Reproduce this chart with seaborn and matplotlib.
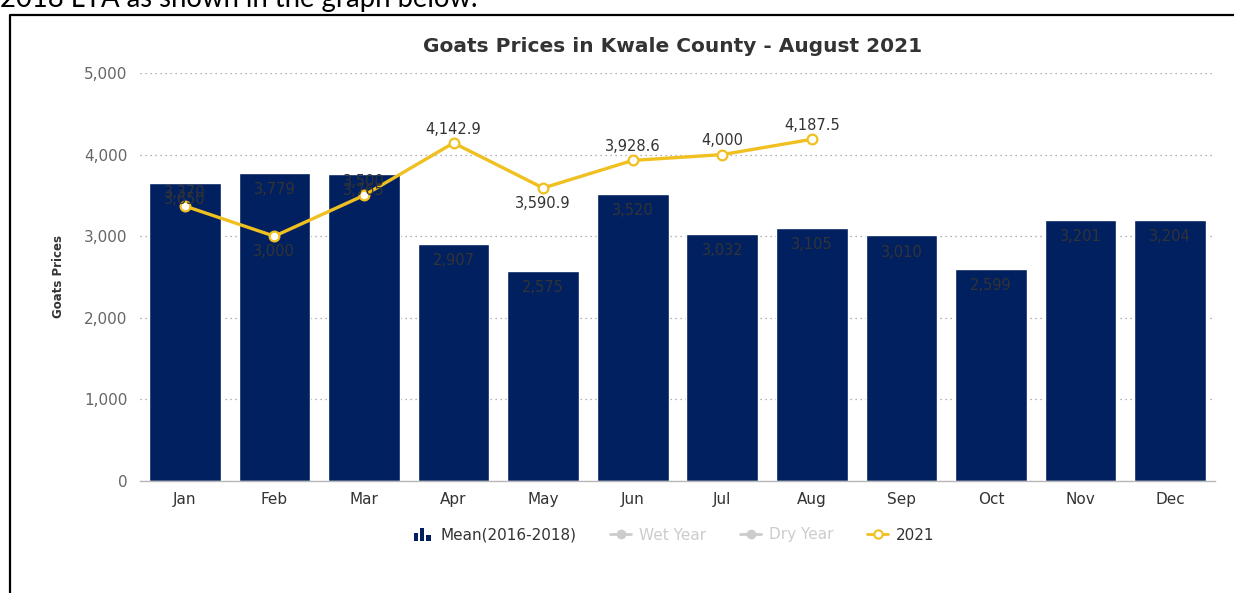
import matplotlib
matplotlib.use("Agg")
import matplotlib.pyplot as plt
import seaborn as sns
from matplotlib.lines import Line2D
from matplotlib.patches import Rectangle
from matplotlib.legend_handler import HandlerBase

# ---- data ----
months = ["Jan", "Feb", "Mar", "Apr", "May", "Jun", "Jul", "Aug", "Sep", "Oct", "Nov", "Dec"]
mean_2016_2018 = [3650, 3779, 3765, 2907, 2575, 3520, 3032, 3105, 3010, 2599, 3201, 3204]
months_2021 = ["Jan", "Feb", "Mar", "Apr", "May", "Jun", "Jul", "Aug"]
prices_2021 = [3370, 3000, 3500, 4142.9, 3590.9, 3928.6, 4000, 4187.5]
labels_below_2021 = ["Feb", "May"]
y_ticks = [0, 1000, 2000, 3000, 4000, 5000]
legend_labels = ["Mean(2016-2018)", "Wet Year", "Dry Year", "2021"]

NAVY = "#012060"
GOLD = "#F0C020"
TEXT = "#333333"
MUTED = "#666666"
HIDDEN = "#cccccc"

W, H = 1234, 593

sns.set_theme(style="white")
plt.rcParams["font.family"] = ["DejaVu Sans"]


def fmt(v):
    return f"{int(v):,}" if float(v).is_integer() else f"{v:,.1f}"


fig = plt.figure(figsize=(W / 100, H / 100), dpi=100)
ax = fig.add_axes([140 / W, 1 - 481 / H, 1075 / W, 408 / H])

sns.barplot(x=months, y=mean_2016_2018, order=months, color=NAVY, width=0.8,
            saturation=1, errorbar=None, ax=ax)
sns.pointplot(x=months_2021, y=prices_2021, order=months, color=GOLD, errorbar=None,
              markers="o", markersize=7, markerfacecolor="white", markeredgecolor=GOLD,
              markeredgewidth=1.6, linewidth=2.4, ax=ax)

ax.set_xlim(-0.5, 11.5)
ax.set_ylim(0, 5000)
ax.set_yticks(y_ticks)
ax.set_yticklabels([f"{t:,}" for t in y_ticks], color=MUTED, fontsize=11)
ax.set_xticks(range(len(months)))
ax.set_xticklabels(months, color=TEXT, fontsize=11)
ax.tick_params(axis="y", length=0, pad=9)
ax.tick_params(axis="x", length=0, pad=8)
ax.set_xlabel("")
ax.set_ylabel("Goats Prices", fontsize=8.5, fontweight="bold", color=TEXT)
ax.yaxis.set_label_coords(-0.07, 0.5)

ax.set_axisbelow(True)
ax.yaxis.grid(True, linestyle=(0, (1, 3)), color="#999999", linewidth=0.9)
ax.xaxis.grid(False)
for s in ["top", "right", "left"]:
    ax.spines[s].set_visible(False)
ax.spines["bottom"].set_color("#b8b8b8")
ax.spines["bottom"].set_linewidth(1.0)

# value labels inside the bars
for i, v in enumerate(mean_2016_2018):
    ax.annotate(fmt(v), (i, v), xytext=(0, -12), textcoords="offset points",
                ha="center", va="center", fontsize=10.5, color=TEXT)

# value labels for the 2021 line
for m, v in zip(months_2021, prices_2021):
    i = months.index(m)
    dy = -11 if m in labels_below_2021 else 10
    ax.annotate(fmt(v), (i, v), xytext=(0, dy), textcoords="offset points",
                ha="center", va="center", fontsize=10.5, color=TEXT)

fig.text(673 / W, 1 - 47 / H, "Goats Prices in Kwale County - August 2021",
         ha="center", va="center", fontsize=14.5, fontweight="bold", color=TEXT)


class BarIconHandler(HandlerBase):
    def create_artists(self, legend, orig_handle, xdescent, ydescent, width, height,
                       fontsize, trans):
        arts = []
        bw = width * 0.2
        gap = width * 0.1
        heights = [0.75, 1.25, 0.55]
        x0 = width * 0.5 - 1.5 * bw - gap
        base = -ydescent - height * 0.15
        for k, h in enumerate(heights):
            arts.append(Rectangle((x0 + k * (bw + gap) - xdescent, base), bw, height * h,
                                  facecolor=NAVY, edgecolor="none", transform=trans))
        return arts


handles = [
    Rectangle((0, 0), 1, 1, facecolor=NAVY),
    Line2D([], [], color=HIDDEN, marker="o", markersize=6, linewidth=2),
    Line2D([], [], color=HIDDEN, marker="o", markersize=6, linewidth=2),
    Line2D([], [], color=GOLD, marker="o", markersize=6, linewidth=2,
           markerfacecolor="white", markeredgecolor=GOLD, markeredgewidth=1.5),
]
leg = fig.legend(handles, legend_labels, loc="center", ncol=4,
                 bbox_to_anchor=(673 / W, 1 - 535 / H), frameon=False, fontsize=11,
                 handlelength=1.4, handletextpad=0.5, columnspacing=2.2,
                 handler_map={Rectangle: BarIconHandler()})
for t, c in zip(leg.get_texts(), [TEXT, HIDDEN, HIDDEN, TEXT]):
    t.set_color(c)

# surrounding text and frame
fig.text(0, 1 - 7 / H, "2018 LTA as shown in the graph below.", ha="left",
         va="baseline", fontsize=19.8, family=["Lato", "DejaVu Sans"], color="black")
fig.add_artist(Line2D([10.5 / W, 10.5 / W, 1.0], [0.0, 1 - 15 / H, 1 - 15 / H],
                      transform=fig.transFigure, color="black", linewidth=1.6))

fig.savefig("out.png", dpi=100)
